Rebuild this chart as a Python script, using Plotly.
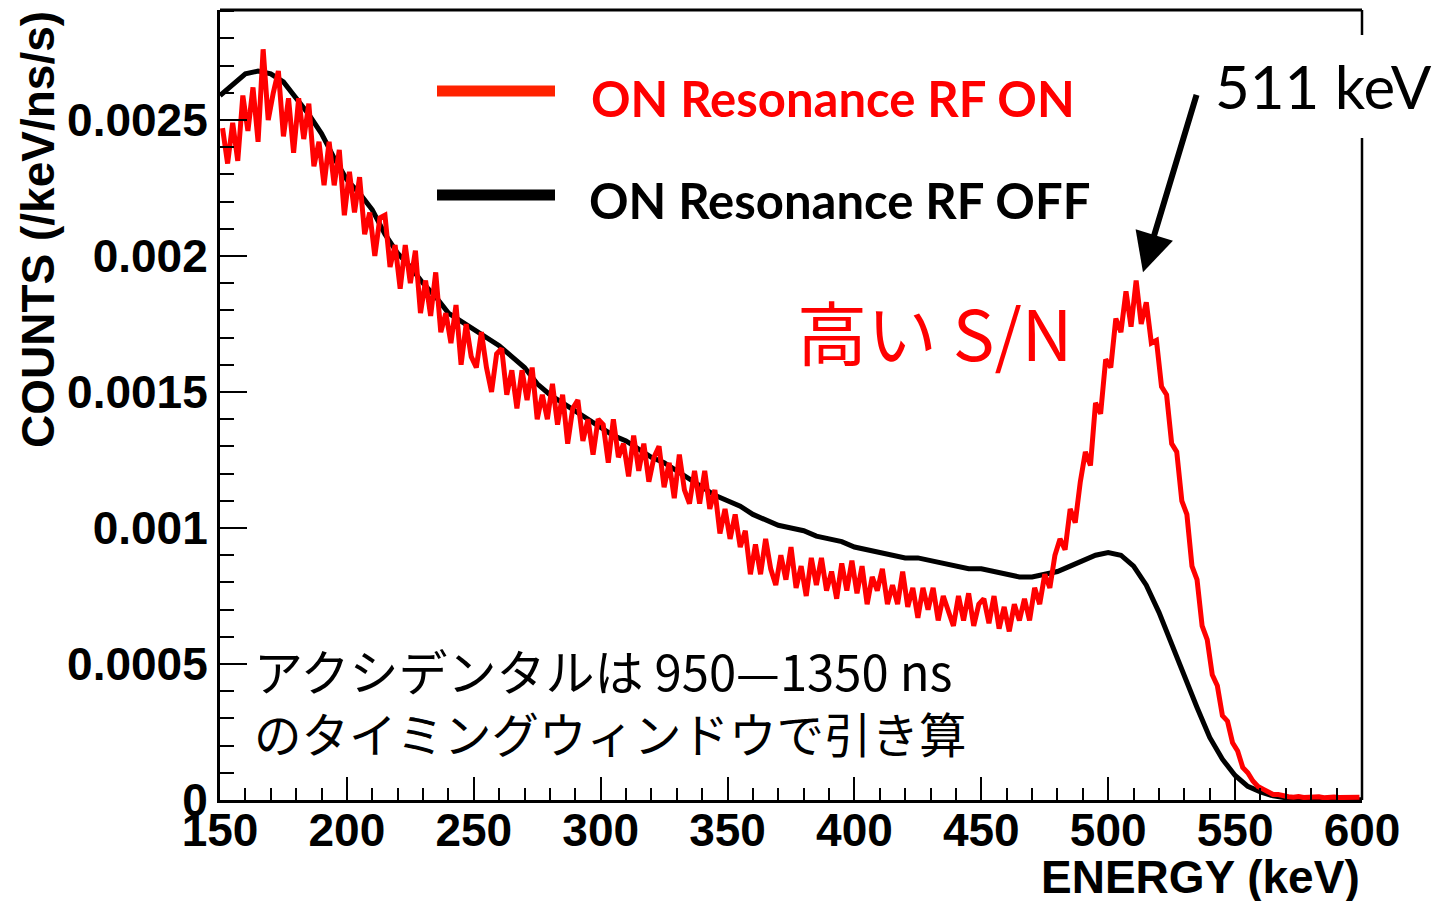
import numpy as np
import plotly.graph_objects as go

# ---- data -------------------------------------------------------------
# Energy spectra in units of 1e-5 counts/keV/ns/s
ENERGY_OFF = np.arange(150, 601, 5)
COUNTS_OFF_1E5 = [
    259, 263, 267, 268, 267, 264, 258, 252, 245, 236,
    228, 223, 217, 208, 201, 196, 190, 185, 179, 176,
    173, 170, 167, 163, 159, 153, 149, 146, 143, 140,
    137, 134, 132, 129, 126, 124, 121, 118, 115, 112,
    110, 108, 105, 103, 101, 100, 99, 97, 96, 95,
    93, 92, 91, 90, 89, 89, 88, 87, 86, 85,
    85, 84, 83, 82, 82, 83, 84, 86, 88, 90,
    91, 90, 86, 79, 69, 57, 45, 34, 23, 15,
    9, 5, 3, 1.5, 0.8, 0.5, 0.3, 0.2, 0.1, 0.1, 0.1,
]

# 2 keV bins, centres 151 ... 599
ENERGY_ON = np.arange(151, 600, 2)
COUNTS_ON_1E5 = [
    # 150-200
    247, 234, 249, 235, 259, 246, 262, 242, 276, 250,
    260, 268, 244, 258, 238, 258, 243, 256, 233, 242,
    226, 242, 226, 239, 215,
    # 200-250
    231, 216, 229, 208, 216, 200, 214, 215, 196, 204,
    188, 204, 190, 202, 179, 191, 178, 194, 172, 179,
    168, 182, 160, 175, 163,
    # 250-300
    159, 172, 159, 150, 164, 166, 149, 158, 144, 158,
    147, 159, 140, 149, 140, 153, 138, 149, 131, 144,
    147, 132, 140, 127, 140,
    # 300-350
    138, 124, 140, 126, 131, 119, 134, 121, 131, 117,
    126, 130, 115, 124, 111, 127, 114, 109, 121, 109,
    121, 107, 114, 98, 107,
    # 350-400
    96, 105, 93, 99, 83, 94, 83, 96, 85, 79,
    90, 81, 93, 78, 86, 75, 89, 79, 89, 77,
    84, 74, 87, 77, 88,
    # 400-450
    76, 86, 72, 82, 77, 85, 72, 79, 72, 84,
    71, 78, 67, 78, 70, 78, 66, 75, 69, 64,
    75, 66, 76, 64, 72,
    # 450-500
    74, 65, 75, 63, 71, 62, 72, 66, 74, 66,
    78, 72, 83, 78, 90, 96, 92, 107, 102, 117,
    128, 123, 146, 142, 162,
    # 500-550
    159, 177, 172, 187, 174, 191, 175, 183, 168, 169,
    152, 149, 131, 128, 110, 105, 86, 81, 64, 59,
    46, 42, 31, 29, 21,
    # 550-600
    18, 12, 10, 7, 5, 4, 3, 2, 2, 1.5,
    1.2, 1, 1.3, 0.9, 1.1, 1, 1.2, 0.8, 1, 1.1,
    0.9, 1, 1.2, 0.9, 1,
]

SCALE = 1e-5
X_TICKS = [150, 200, 250, 300, 350, 400, 450, 500, 550, 600]
Y_TICKS = [0, 0.0005, 0.001, 0.0015, 0.002, 0.0025]
Y_TICK_LABELS = ["0", "0.0005", "0.001", "0.0015", "0.002", "0.0025"]

LABEL_ON = "ON Resonance RF ON"
LABEL_OFF = "ON Resonance RF OFF"
PEAK_LABEL = "511 keV"
PEAK_ARROW_TIP = (513.7, 0.00194)

# ---- figure -----------------------------------------------------------
W, H = 1432, 901
ML, MR, MT, MB = 220, 70, 10, 101
PW, PH = W - ML - MR, H - MT - MB


def px(xp):
    return (xp - ML) / PW


def py(yp):
    return (H - MB - yp) / PH


fig = go.Figure()
fig.add_trace(go.Scatter(
    x=ENERGY_OFF, y=np.array(COUNTS_OFF_1E5) * SCALE,
    mode="lines", line=dict(color="black", width=5),
    name=LABEL_OFF, showlegend=False,
))
fig.add_trace(go.Scatter(
    x=ENERGY_ON, y=np.array(COUNTS_ON_1E5) * SCALE,
    mode="lines", line=dict(color="#ff0000", width=5),
    name=LABEL_ON, showlegend=False,
))

tick_font = dict(family="Liberation Sans, Arial, sans-serif", size=46,
                 color="black", weight="bold")

fig.update_layout(
    width=W, height=H,
    margin=dict(l=ML, r=MR, t=MT, b=MB, pad=0),
    paper_bgcolor="white", plot_bgcolor="white",
    xaxis=dict(
        range=[150, 600], showgrid=False, zeroline=False,
        showline=True, linecolor="black", linewidth=3,
        tickmode="array", tickvals=X_TICKS, ticktext=[str(v) for v in X_TICKS],
        ticks="inside", ticklen=23, tickwidth=2, tickcolor="black",
        minor=dict(tickmode="linear", tick0=150, dtick=10, ticks="inside",
                   ticklen=12, tickwidth=2, tickcolor="black"),
        tickfont=tick_font, ticklabelstandoff=-12,
    ),
    yaxis=dict(
        range=[0, 0.0029045], showgrid=False, zeroline=False,
        showline=True, linecolor="black", linewidth=3,
        tickmode="array", tickvals=Y_TICKS, ticktext=Y_TICK_LABELS,
        ticks="inside", ticklen=27, tickwidth=2, tickcolor="black",
        minor=dict(tickmode="linear", tick0=0, dtick=0.0001, ticks="inside",
                   ticklen=14, tickwidth=2, tickcolor="black"),
        tickfont=tick_font,
    ),
)

# frame: top edge and right edge (right edge interrupted by the peak label)
fig.add_shape(type="line", xref="paper", yref="paper", x0=0, x1=1, y0=1, y1=1,
              line=dict(color="black", width=3))
fig.add_shape(type="line", xref="paper", yref="paper", x0=1, x1=1, y0=0, y1=py(138),
              line=dict(color="black", width=2.5))
fig.add_shape(type="line", xref="paper", yref="paper", x0=1, x1=1, y0=py(35), y1=1,
              line=dict(color="black", width=2.5))

# legend swatches
fig.add_shape(type="line", xref="paper", yref="paper", x0=px(437), x1=px(555),
              y0=py(91), y1=py(91), line=dict(color="#ff2200", width=11))
fig.add_shape(type="line", xref="paper", yref="paper", x0=px(437), x1=px(555),
              y0=py(195), y1=py(195), line=dict(color="black", width=11))

legend_font = dict(family="Lato, sans-serif", size=49, weight="bold")
fig.add_annotation(xref="paper", yref="paper", x=px(589), y=py(98),
                   xanchor="left", yanchor="middle", showarrow=False,
                   text=LABEL_ON, font=dict(legend_font, color="#ff0000"))
fig.add_annotation(xref="paper", yref="paper", x=px(587), y=py(200),
                   xanchor="left", yanchor="middle", showarrow=False,
                   text=LABEL_OFF, font=dict(legend_font, color="black"))

# axis titles
title_font = dict(family="Liberation Sans, Arial, sans-serif", size=46,
                  color="black", weight="bold")
fig.add_annotation(xref="paper", yref="paper", x=px(38), y=py(230),
                   xanchor="center", yanchor="middle", showarrow=False,
                   textangle=-90, text="COUNTS (/keV/ns/s)", font=title_font)
fig.add_annotation(xref="paper", yref="paper", x=1.0, y=py(877),
                   xanchor="right", yanchor="middle", showarrow=False,
                   text="ENERGY (keV)", font=title_font)

# peak label and arrow
fig.add_annotation(xref="paper", yref="paper", x=px(1323), y=py(86),
                   xanchor="center", yanchor="middle", showarrow=False,
                   text=PEAK_LABEL, bgcolor="white", borderpad=14,
                   font=dict(family="Lato, sans-serif", size=60, color="black"))
fig.add_annotation(x=PEAK_ARROW_TIP[0], y=PEAK_ARROW_TIP[1], xref="x", yref="y",
                   ax=54, ay=-179, axref="pixel", ayref="pixel",
                   text="", showarrow=True, arrowhead=2, arrowsize=1.3,
                   arrowwidth=6, arrowcolor="black", standoff=0)

# signal-to-noise note
fig.add_annotation(xref="paper", yref="paper", x=px(795), y=py(330),
                   xanchor="left", yanchor="middle", showarrow=False,
                   text="高い S/N",
                   font=dict(family="Noto Sans CJK JP, sans-serif", size=70,
                             color="#ff0000"))

# accidental subtraction note
fig.add_annotation(xref="paper", yref="paper", x=px(252), y=py(669),
                   xanchor="left", yanchor="middle", showarrow=False,
                   text="アクシデンタルは 950—1350 ns",
                   font=dict(family="Noto Sans CJK JP, sans-serif", size=49,
                             color="black"))
fig.add_annotation(xref="paper", yref="paper", x=px(252), y=py(732),
                   xanchor="left", yanchor="middle", showarrow=False,
                   text="のタイミングウィンドウで引き算",
                   font=dict(family="Noto Sans CJK JP, sans-serif", size=47.5,
                             color="black"))

fig.write_html("out.html")
